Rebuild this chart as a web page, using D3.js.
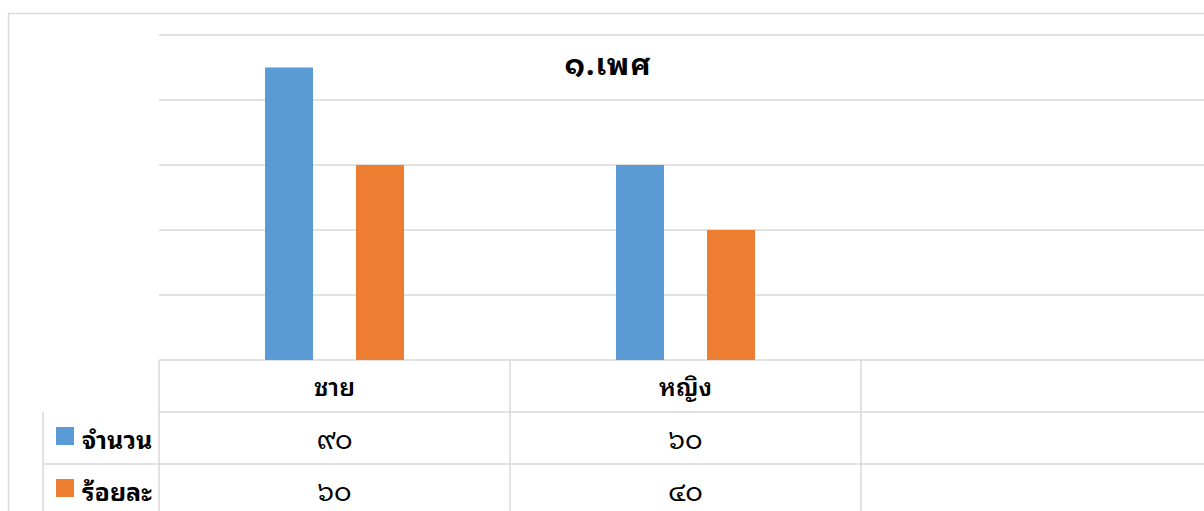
<!DOCTYPE html>
<html lang="th">
  <head>
    <meta charset="UTF-8" />
    <title>๑.เพศ</title>
    <style>
      body {
        margin: 0;
        background: #fff;
      }
      svg text {
        font-family: "Noto Sans Thai Looped", "Loma", "Garuda", "Noto Sans Thai", "Noto Sans", sans-serif;
        fill: #000;
      }
    </style>
  </head>
  <body>
    <svg id="svg" width="1204" height="511"></svg>
    <script src="https://cdn.jsdelivr.net/npm/d3@7"></script>
    <script>
      // data
      const categories = ["ชาย", "หญิง", ""];
      const seriesNames = ["จำนวน", "ร้อยละ"];
      const countValues = [90, 60, null];
      const percentValues = [60, 40, null];
      const yTicks = [0, 20, 40, 60, 80, 100];
      const colors = ["#5b9bd5", "#ed7d31"];

      const series = [countValues, percentValues];

      // layout
      const PLOT_LEFT = 159;
      const PLOT_TOP = 35;
      const PLOT_BOTTOM = 360;
      const COL_W = 351;
      const ROW_H = 52;
      const GRID = "#d9d9d9";

      const thaiDigits = "๐๑๒๓๔๕๖๗๘๙";
      const toThai = (n) =>
        n == null ? "" : String(n).replace(/\d/g, (d) => thaiDigits[+d]);

      const svg = d3.select("#svg");

      // outer chart frame
      svg
        .append("rect")
        .attr("x", 8.5)
        .attr("y", 13.5)
        .attr("width", 1300)
        .attr("height", 600)
        .attr("fill", "none")
        .attr("stroke", GRID)
        .attr("stroke-width", 1.5);

      const x0 = d3
        .scaleBand()
        .domain(categories)
        .range([PLOT_LEFT, PLOT_LEFT + COL_W * categories.length]);

      const x1 = d3
        .scaleBand()
        .domain(seriesNames)
        .range([106, COL_W - 106])
        .paddingInner(43 / 91);

      const y = d3.scaleLinear().domain([0, 100]).range([PLOT_BOTTOM, PLOT_TOP]);

      // gridlines
      svg
        .append("g")
        .selectAll("line")
        .data(yTicks)
        .enter()
        .append("line")
        .attr("x1", PLOT_LEFT)
        .attr("x2", 1300)
        .attr("y1", (d) => y(d))
        .attr("y2", (d) => y(d))
        .attr("stroke", GRID)
        .attr("stroke-width", 1.5);

      // bars
      const barGroups = svg
        .append("g")
        .selectAll("g")
        .data(series)
        .enter()
        .append("g")
        .attr("fill", (d, i) => colors[i]);

      barGroups
        .selectAll("rect")
        .data((vals, si) =>
          vals
            .map((v, ci) => ({ v, cat: categories[ci], s: seriesNames[si] }))
            .filter((d) => d.v != null)
        )
        .enter()
        .append("rect")
        .attr("x", (d) => x0(d.cat) + x1(d.s))
        .attr("width", x1.bandwidth())
        .attr("y", (d) => y(d.v))
        .attr("height", (d) => y(0) - y(d.v));

      // title
      svg
        .append("text")
        .attr("x", 608)
        .attr("y", 75)
        .attr("text-anchor", "middle")
        .style("font-size", "30px")
        .style("font-weight", "bold")
        .style("letter-spacing", "1px")
        .text("๑.เพศ");

      // data table
      const table = svg.append("g");
      const tableLines = [];
      // horizontal lines
      for (let r = 1; r <= 3; r++) {
        tableLines.push({
          x1: r === 1 ? PLOT_LEFT : 43,
          x2: 1300,
          y1: PLOT_BOTTOM + ROW_H * r,
          y2: PLOT_BOTTOM + ROW_H * r,
        });
      }
      // vertical lines
      categories.forEach((c) => {
        tableLines.push({ x1: x0(c), x2: x0(c), y1: PLOT_BOTTOM, y2: 600 });
      });
      tableLines.push({ x1: 43, x2: 43, y1: PLOT_BOTTOM + ROW_H, y2: 600 });

      table
        .selectAll("line")
        .data(tableLines)
        .enter()
        .append("line")
        .attr("x1", (d) => d.x1)
        .attr("x2", (d) => d.x2)
        .attr("y1", (d) => d.y1)
        .attr("y2", (d) => d.y2)
        .attr("stroke", GRID)
        .attr("stroke-width", 1.5);

      // category headers
      table
        .selectAll("text.cat")
        .data(categories)
        .enter()
        .append("text")
        .attr("class", "cat")
        .attr("x", (d) => x0(d) + x0.bandwidth() / 2)
        .attr("y", PLOT_BOTTOM + 36)
        .attr("text-anchor", "middle")
        .style("font-size", "25px")
        .style("font-weight", "600")
        .text((d) => d);

      // series rows
      const rows = table
        .selectAll("g.row")
        .data(series)
        .enter()
        .append("g")
        .attr("class", "row")
        .attr("transform", (d, i) => `translate(0, ${PLOT_BOTTOM + ROW_H * (i + 1)})`);

      rows
        .append("rect")
        .attr("x", 56)
        .attr("y", 15)
        .attr("width", 18)
        .attr("height", 18)
        .attr("fill", (d, i) => colors[i]);

      rows
        .append("text")
        .attr("x", 82)
        .attr("y", 37)
        .style("font-size", "25px")
        .style("font-weight", "bold")
        .text((d, i) => seriesNames[i]);

      rows
        .selectAll("text.val")
        .data((vals) => vals.map((v, ci) => ({ v, cat: categories[ci] })))
        .enter()
        .append("text")
        .attr("class", "val")
        .attr("x", (d) => x0(d.cat) + x0.bandwidth() / 2)
        .attr("y", 37)
        .attr("text-anchor", "middle")
        .style("font-size", "27px")
        .text((d) => toThai(d.v));
    </script>
  </body>
</html>
